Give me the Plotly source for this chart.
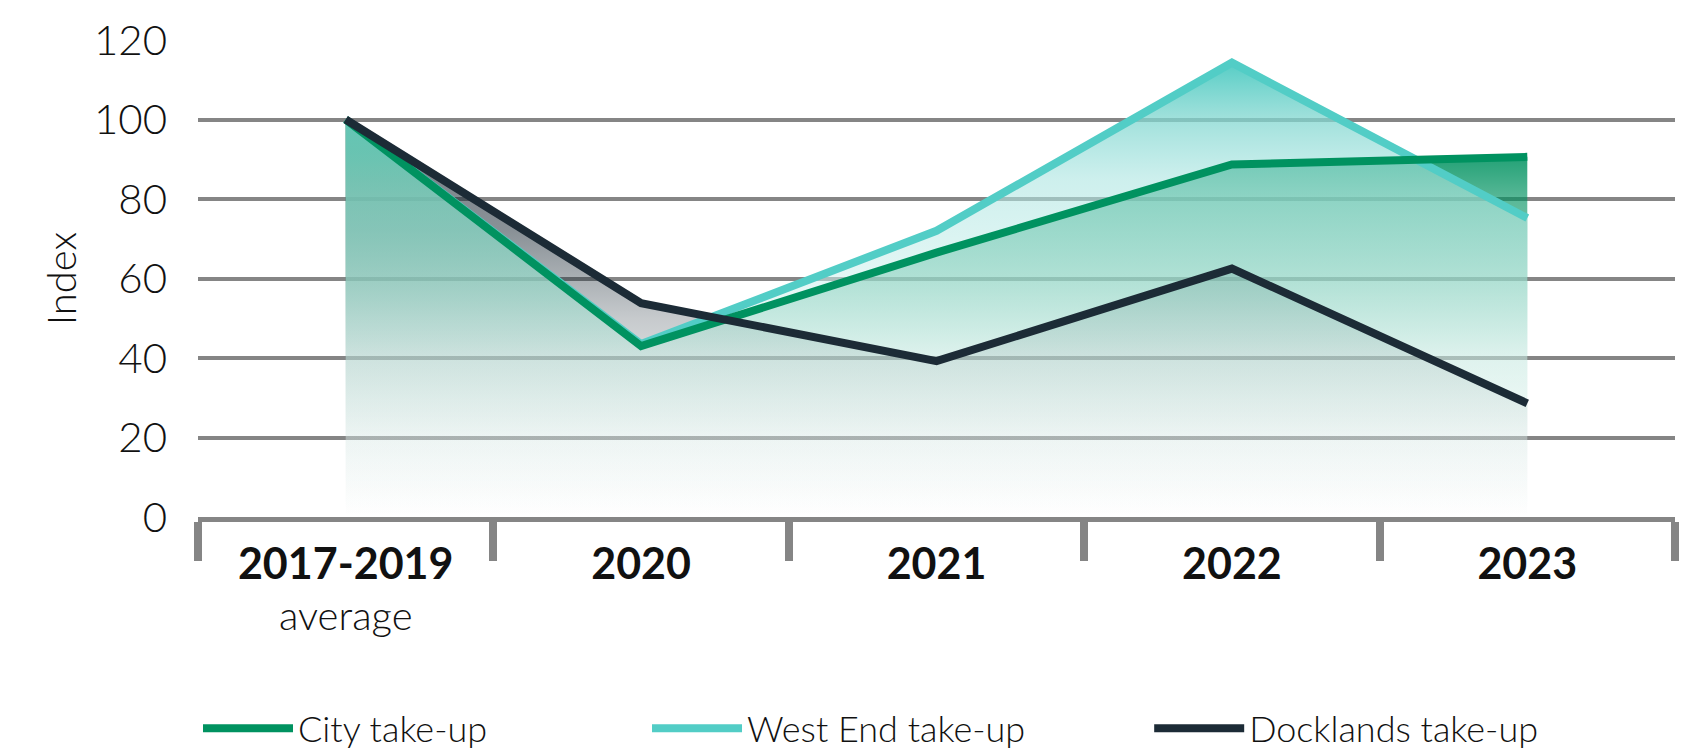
import plotly.graph_objects as go

# Take-up index by London sub-market (2017-2019 average = 100)
categories = ["2017-2019", "2020", "2021", "2022", "2023"]
category_note = "average"
city = [100, 43, 66.5, 88.7, 90.6]
west_end = [100, 43.5, 72, 114.3, 75.2]
docklands = [100, 53.8, 39.2, 62.5, 28.6]

GREEN = "#009260"
TEAL = "#52CDC6"
DARK = "#1C2B36"
GRID = "#858585"
INK = "#111111"
FONT = "Lato"


def scale(stops, top):
    """Turn (value, rgba) stops into a colorscale spanning 0..top."""
    return [[v / top, c] for v, c in stops]


dark_fill = scale([
    (0, "rgba(28,43,54,0)"),
    (20, "rgba(28,43,54,0.05)"),
    (30, "rgba(28,43,54,0.10)"),
    (50, "rgba(28,43,54,0.25)"),
    (72, "rgba(28,43,54,0.52)"),
    (100, "rgba(28,43,54,0.62)"),
], 100)

green_fill = scale([
    (0, "rgba(0,146,96,0)"),
    (20, "rgba(0,146,96,0.04)"),
    (40, "rgba(0,146,96,0.15)"),
    (60, "rgba(0,146,96,0.45)"),
    (80, "rgba(0,146,96,0.65)"),
    (90, "rgba(0,146,96,0.85)"),
    (100, "rgba(0,146,96,0.95)"),
], 100)

teal_top = max(west_end)
teal_fill = scale([
    (0, "rgba(255,255,255,0.3)"),
    (40, "rgba(228,246,244,0.5)"),
    (60, "rgba(205,240,237,0.55)"),
    (85, "rgba(172,229,225,0.6)"),
    (92, "rgba(150,222,217,0.66)"),
    (100, "rgba(130,215,208,0.75)"),
    (teal_top, "rgba(82,204,196,0.98)"),
], teal_top)

fig = go.Figure()

# gradient areas, drawn beneath every line
for ys, cs, top in [(docklands, dark_fill, 100), (city, green_fill, 100), (west_end, teal_fill, teal_top)]:
    fig.add_trace(go.Scatter(
        x=categories, y=ys, mode="none", fill="tozeroy",
        fillgradient=dict(type="vertical", colorscale=cs, start=0, stop=top),
        showlegend=False, hoverinfo="skip",
    ))

# lines
for name, ys, col, leg in [
    ("West End take-up", west_end, TEAL, "legend2"),
    ("City take-up", city, GREEN, "legend"),
    ("Docklands take-up", docklands, DARK, "legend3"),
]:
    fig.add_trace(go.Scatter(
        x=categories, y=ys, mode="lines", name=name,
        line=dict(color=col, width=8), legend=leg,
    ))

legend_common = dict(
    orientation="h", y=-0.443, yanchor="middle", xanchor="left",
    font=dict(family=FONT, size=36, color=INK, weight=300),
    bgcolor="rgba(0,0,0,0)", itemwidth=90,
)

fig.update_layout(
    width=1700, height=752,
    margin=dict(l=198, r=25, t=40, b=235, autoexpand=False),
    paper_bgcolor="white", plot_bgcolor="white",
    font=dict(family=FONT, color=INK),
    legend=dict(x=0.0, **legend_common),
    legend2=dict(x=0.304, **legend_common),
    legend3=dict(x=0.644, **legend_common),
    xaxis=dict(
        type="category", range=[-0.5, 4.5], automargin=False,
        tickson="boundaries", ticks="outside", ticklen=39, tickwidth=8, tickcolor=GRID,
        showline=True, linewidth=5, linecolor=GRID,
        showgrid=False, zeroline=False,
        tickfont=dict(family=FONT, size=43, color=INK, weight="bold"),
        ticklabelstandoff=5,
    ),
    yaxis=dict(
        range=[0, 120], dtick=20, tick0=0, automargin=False,
        showgrid=True, gridcolor=GRID, gridwidth=3.5,
        zeroline=False, showline=False,
        tickfont=dict(family=FONT, size=42, color=INK, weight=300),
        ticks="", ticklabelstandoff=30,
        title=dict(text="Index", font=dict(family=FONT, size=40, color=INK, weight=300), standoff=4),
    ),
    annotations=[dict(
        x=categories[0], y=-0.206, xref="x", yref="paper",
        text=category_note, showarrow=False, yanchor="middle",
        font=dict(family=FONT, size=40, color=INK, weight=300),
    )],
)

fig.write_html("out.html")
